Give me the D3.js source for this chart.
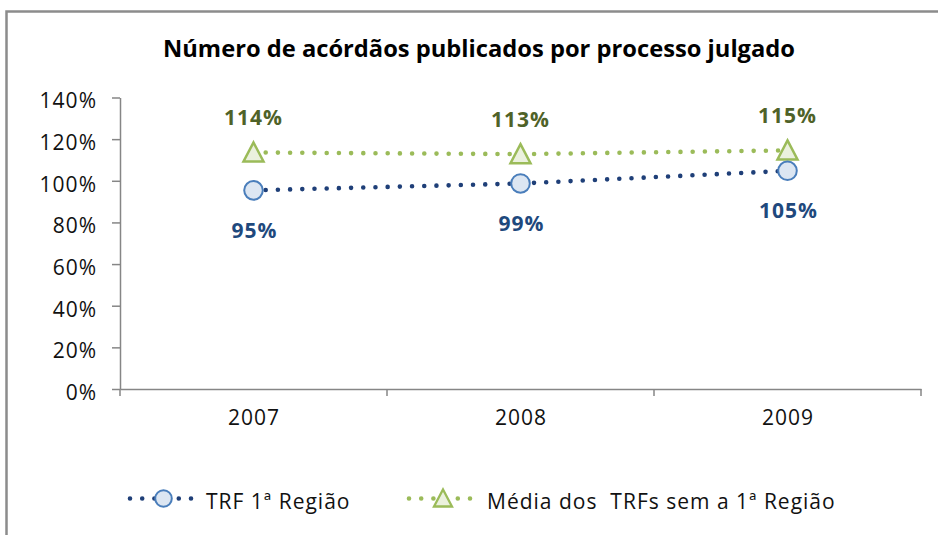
<!DOCTYPE html>
<html>
<head>
<meta charset="utf-8">
<script src="https://cdn.jsdelivr.net/npm/d3@7"></script>
<style>
  html, body { margin: 0; padding: 0; background: #fff; }
  svg { display: block; font-family: "Open Sans", sans-serif; }
</style>
</head>
<body>
<svg id="chart" width="938" height="535"></svg>
<script>
// ---- data ----
const title = "Número de acórdãos publicados por processo julgado";
const categories = ["2007", "2008", "2009"];
const seriesNames = ["TRF 1ª Região", "Média dos  TRFs sem a 1ª Região"];
const trf1Values = [0.954, 0.987, 1.048];
const mediaValues = [1.136, 1.128, 1.146];
const yTickValues = [0, 0.2, 0.4, 0.6, 0.8, 1.0, 1.2, 1.4];

// ---- styles ----
const blueLine = "#1F3F78", blueMarkerFill = "#DCE6F2", blueMarkerStroke = "#4A7EBB", blueLabel = "#1F497D";
const greenLine = "#9BBB59", greenMarkerFill = "#EBF1DE", greenMarkerStroke = "#9BBB59", greenLabel = "#4F6228";
const axisColor = "#868686";
const ls = 1; // letter spacing

const svg = d3.select("#chart");
svg.append("rect").attr("width", 938).attr("height", 535).attr("fill", "#fff");

// frame
svg.append("rect").attr("x", 6.5).attr("y", 11.5).attr("width", 1000).attr("height", 600)
  .attr("fill", "none").attr("stroke", "#8c8c8c").attr("stroke-width", 2.5);

// title
svg.append("text").attr("x", 163).attr("y", 57)
  .attr("font-size", 24).attr("font-weight", "bold").attr("fill", "#000")
  .attr("textLength", 632).attr("lengthAdjust", "spacingAndGlyphs")
  .text(title);

// scales
const plotLeft = 120, plotRight = 921, plotTop = 97.5, plotBottom = 389;
const x = d3.scaleBand().domain(categories).range([plotLeft, plotRight]).padding(0);
const y = d3.scaleLinear().domain([0, 1.4]).range([plotBottom, plotTop]);
const cx = d => x(d) + x.bandwidth() / 2;

// y axis
const yAxis = svg.append("g").attr("transform", `translate(${plotLeft},0)`)
  .call(d3.axisLeft(y).tickValues(yTickValues).tickFormat(d3.format(".0%")).tickSize(8).tickSizeOuter(0).tickPadding(15));
yAxis.selectAll("path, line").attr("stroke", axisColor).attr("stroke-width", 1.5);
yAxis.selectAll("text").attr("font-size", 21).attr("font-family", "Open Sans").attr("fill", "#111")
  .attr("dy", "0.49em").attr("letter-spacing", ls);

// x axis
const xAxis = svg.append("g").attr("transform", `translate(0,${plotBottom})`)
  .call(d3.axisBottom(x).tickSize(0).tickPadding(36));
xAxis.select("path").attr("stroke", axisColor).attr("stroke-width", 1.5);
xAxis.selectAll("text").attr("font-size", 21).attr("font-family", "Open Sans").attr("fill", "#111")
  .attr("dy", "0").attr("letter-spacing", ls).attr("dx", ls / 2);
const boundaries = categories.map(c => x(c)).concat([x(categories[categories.length - 1]) + x.bandwidth()]);
xAxis.selectAll("line.bt").data(boundaries).enter().append("line").attr("class", "bt")
  .attr("x1", d => d).attr("x2", d => d).attr("y1", 0).attr("y2", 7)
  .attr("stroke", axisColor).attr("stroke-width", 1.5);

// lines
const line = d3.line().x((d, i) => cx(categories[i])).y(d => y(d));
function dotted(sel, color) {
  return sel.attr("fill", "none").attr("stroke", color).attr("stroke-width", 4.6)
    .attr("stroke-linecap", "round").attr("stroke-dasharray", "0 12.2");
}
dotted(svg.append("path").attr("d", line(mediaValues)), greenLine);
dotted(svg.append("path").attr("d", line(trf1Values)), blueLine);

// markers
const triPath = "M0,-10 L10,9 L-10,9 Z";
function triangle(g, px, py) {
  g.append("path").attr("d", triPath).attr("transform", `translate(${px},${py})`)
    .attr("fill", greenMarkerFill).attr("stroke", greenMarkerStroke).attr("stroke-width", 2.5).attr("stroke-linejoin", "miter");
}
function circle(g, px, py, r) {
  g.append("circle").attr("cx", px).attr("cy", py).attr("r", r)
    .attr("fill", blueMarkerFill).attr("stroke", blueMarkerStroke).attr("stroke-width", 2);
}
mediaValues.forEach((v, i) => triangle(svg, cx(categories[i]), y(v)));
trf1Values.forEach((v, i) => circle(svg, cx(categories[i]), y(v), 9.3));

// data labels
const pct = d3.format(".0%");
svg.selectAll("text.lg").data(mediaValues).enter().append("text").attr("class", "lg")
  .attr("x", (d, i) => cx(categories[i])).attr("y", d => y(d) - 27)
  .attr("text-anchor", "middle").attr("font-size", 21).attr("font-weight", "bold").attr("fill", greenLabel)
  .attr("letter-spacing", ls)
  .text(d => pct(d));
svg.selectAll("text.lb").data(trf1Values).enter().append("text").attr("class", "lb")
  .attr("x", (d, i) => cx(categories[i]) + 1).attr("y", d => y(d) + 47.5)
  .attr("text-anchor", "middle").attr("font-size", 21).attr("font-weight", "bold").attr("fill", blueLabel)
  .attr("letter-spacing", ls)
  .text(d => pct(d));

// legend
const legY = 498.5;
const legendItems = [
  { name: seriesNames[0], x0: 130, x1: 197, mx: 163.5, textX: 206, color: blueLine, marker: "circle" },
  { name: seriesNames[1], x0: 409, x1: 478, mx: 443, textX: 487, color: greenLine, marker: "triangle" }
];
legendItems.forEach(it => {
  dotted(svg.append("line").attr("x1", it.x0).attr("x2", it.x1).attr("y1", legY).attr("y2", legY), it.color);
  if (it.marker === "circle") circle(svg, it.mx, legY, 8.3);
  else {
    svg.append("path").attr("d", "M0,-9 L9,8 L-9,8 Z").attr("transform", `translate(${it.mx},${legY})`)
      .attr("fill", greenMarkerFill).attr("stroke", greenMarkerStroke).attr("stroke-width", 2.3);
  }
  svg.append("text").attr("x", it.textX).attr("y", 508.5).attr("font-size", 21).attr("fill", "#111")
    .attr("letter-spacing", ls)
    .style("white-space", "pre").attr("xml:space", "preserve").text(it.name);
});
</script>
</body>
</html>
